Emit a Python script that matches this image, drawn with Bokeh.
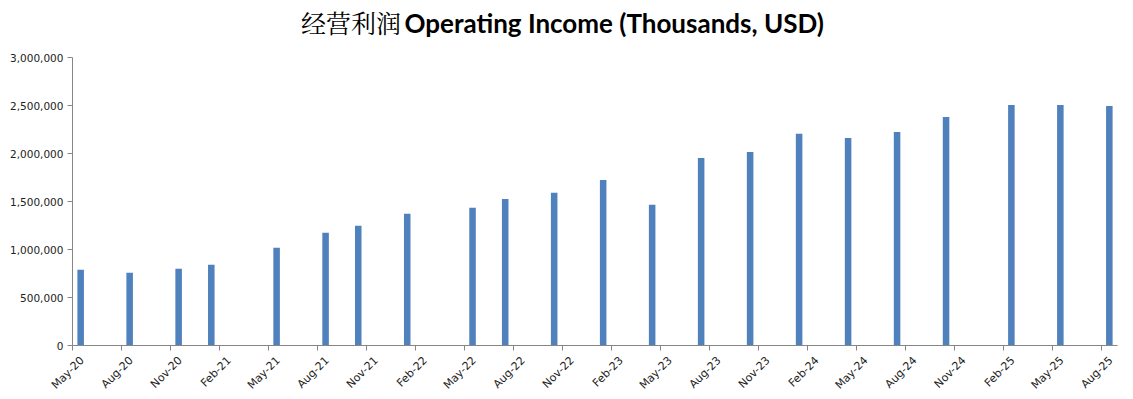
import math
from bokeh.plotting import figure
from bokeh.layouts import column
from bokeh.models import ColumnDataSource, FixedTicker, NumeralTickFormatter, Range1d, Div
from bokeh.embed import file_html
from bokeh.resources import INLINE

# month slot index counted from May-2020
month_index = [0, 3, 6, 8, 12, 15, 17, 20, 24, 26, 29, 32, 35, 38, 41, 44, 47, 50, 53, 57, 60, 63]
income = [790000, 758000, 800000, 842000, 1018000, 1174000, 1247000, 1372000, 1434000, 1527000,
          1590000, 1725000, 1465000, 1954000, 2016000, 2206000, 2161000, 2224000, 2380000,
          2504000, 2504000, 2494000]
tick_labels = ["May-20", "Aug-20", "Nov-20", "Feb-21", "May-21", "Aug-21", "Nov-21", "Feb-22",
               "May-22", "Aug-22", "Nov-22", "Feb-23", "May-23", "Aug-23", "Nov-23", "Feb-24",
               "May-24", "Aug-24", "Nov-24", "Feb-25", "May-25", "Aug-25"]
title_cn = "经营利润"
title_en = "Operating Income (Thousands, USD)"
n_slots = 64

src = ColumnDataSource(dict(x=[m + 0.5 for m in month_index], top=income))

title_div = Div(
    text=(f'<div style="width:1101px;padding-top:5px;padding-left:24px;text-align:center;white-space:nowrap;line-height:34px;">'
          f'<span style="font-family:\'Noto Serif CJK SC\',\'Noto Sans CJK SC\',serif;font-size:25px;color:#000;">{title_cn}</span> '
          f'<span style="font-family:Lato,sans-serif;font-weight:bold;font-size:26px;color:#000;">{title_en}</span></div>'),
    width=1125, height=46, margin=(0, 0, 0, 0))

p = figure(width=1125, height=353, output_backend="svg", toolbar_location=None,
           x_range=Range1d(0, n_slots), y_range=Range1d(0, 3000000),
           min_border_left=72, min_border_right=8, min_border_top=11, min_border_bottom=54,
           margin=(0, 0, 0, 0))
p.outline_line_color = None
p.xgrid.grid_line_color = None
p.ygrid.grid_line_color = None

p.vbar(x="x", top="top", width=0.4, bottom=0, source=src, fill_color="#4F81BD", line_color=None)

tick_pos = [3 * i for i in range(len(tick_labels))]
# labels sit slightly right of their tick (like Excel's rotated labels);
# the visible tick marks are drawn as minor ticks at the period boundaries
label_pos = [t + 0.6 for t in tick_pos]
p.xaxis.ticker = FixedTicker(ticks=label_pos, minor_ticks=tick_pos)
p.xaxis.major_label_overrides = {t: l for t, l in zip(label_pos, tick_labels)}
p.xaxis.major_label_orientation = math.pi / 4
p.xaxis.major_tick_line_color = None
p.xaxis.major_tick_in = 0
p.xaxis.major_tick_out = 0
p.xaxis.minor_tick_line_color = "#868686"
p.xaxis.minor_tick_in = 0
p.xaxis.minor_tick_out = 5
p.xaxis.axis_line_color = "#868686"
p.xaxis.major_label_text_font = "DejaVu Sans"
p.xaxis.major_label_text_font_size = "11px"
p.xaxis.major_label_text_color = "#222222"
p.xaxis.major_label_standoff = 8

p.yaxis.ticker = FixedTicker(ticks=[0, 500000, 1000000, 1500000, 2000000, 2500000, 3000000])
p.yaxis.formatter = NumeralTickFormatter(format="0,0")
p.yaxis.minor_tick_line_color = None
p.yaxis.major_tick_in = 0
p.yaxis.major_tick_out = 5
p.yaxis.axis_line_color = "#868686"
p.yaxis.major_tick_line_color = "#868686"
p.yaxis.major_label_text_font = "DejaVu Sans"
p.yaxis.major_label_text_font_size = "10.5px"
p.yaxis.major_label_text_color = "#222222"
p.yaxis.major_label_standoff = 4

layout = column(title_div, p, spacing=0)
open("out.html", "w").write(file_html(layout, INLINE))
